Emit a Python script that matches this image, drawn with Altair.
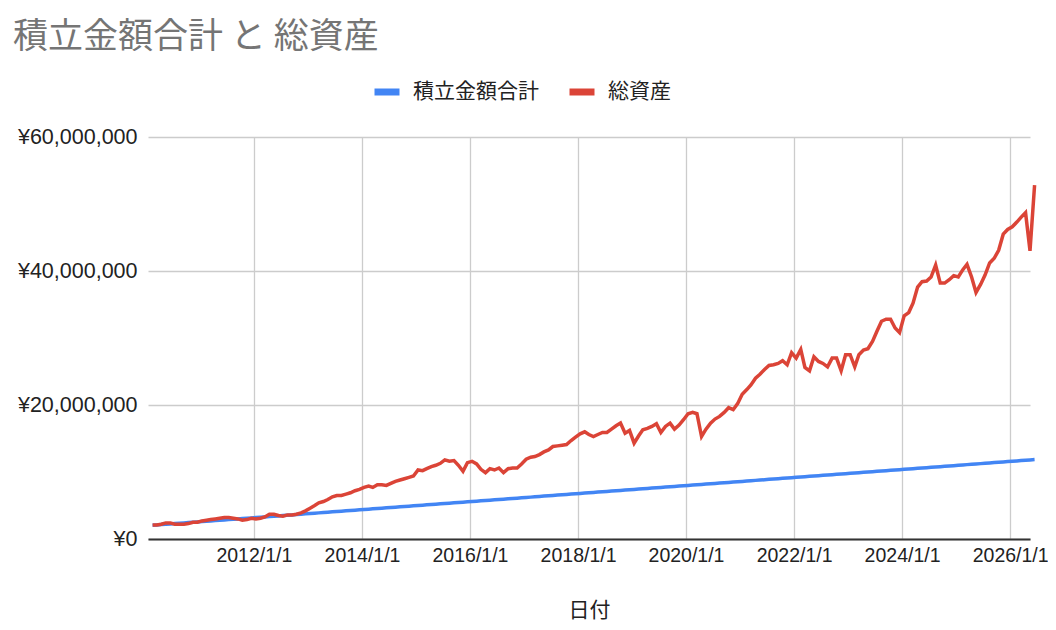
import altair as alt
import pandas as pd

series_names = ["積立金額合計", "総資産"]
series_colors = ["#4285F4", "#DB4437"]

# monthly dates (15th of each month), 2010/1 .. 2026/5
dates = pd.date_range("2010-01-15", periods=197, freq="MS") + pd.Timedelta(days=14)

# 積立金額合計 (万円), one row per year
contrib_2010 = [205, 210, 215, 220, 225, 230, 235, 240, 245, 250, 255, 260]
contrib_2011 = [265, 270, 275, 280, 285, 290, 295, 300, 305, 310, 315, 320]
contrib_2012 = [325, 330, 335, 340, 345, 350, 355, 360, 365, 370, 375, 380]
contrib_2013 = [385, 390, 395, 400, 405, 410, 415, 420, 425, 430, 435, 440]
contrib_2014 = [445, 450, 455, 460, 465, 470, 475, 480, 485, 490, 495, 500]
contrib_2015 = [505, 510, 515, 520, 525, 530, 535, 540, 545, 550, 555, 560]
contrib_2016 = [565, 570, 575, 580, 585, 590, 595, 600, 605, 610, 615, 620]
contrib_2017 = [625, 630, 635, 640, 645, 650, 655, 660, 665, 670, 675, 680]
contrib_2018 = [685, 690, 695, 700, 705, 710, 715, 720, 725, 730, 735, 740]
contrib_2019 = [745, 750, 755, 760, 765, 770, 775, 780, 785, 790, 795, 800]
contrib_2020 = [805, 810, 815, 820, 825, 830, 835, 840, 845, 850, 855, 860]
contrib_2021 = [865, 870, 875, 880, 885, 890, 895, 900, 905, 910, 915, 920]
contrib_2022 = [925, 930, 935, 940, 945, 950, 955, 960, 965, 970, 975, 980]
contrib_2023 = [985, 990, 995, 1000, 1005, 1010, 1015, 1020, 1025, 1030, 1035, 1040]
contrib_2024 = [1045, 1050, 1055, 1060, 1065, 1070, 1075, 1080, 1085, 1090, 1095, 1100]
contrib_2025 = [1105, 1110, 1115, 1120, 1125, 1130, 1135, 1140, 1145, 1150, 1155, 1160]
contrib_2026 = [1165, 1170, 1175, 1180, 1185]

# 総資産 (百万円), one row per year
total_2010 = [2.1, 2.1, 2.2, 2.4, 2.4, 2.2, 2.2, 2.2, 2.3, 2.5, 2.5, 2.7]
total_2011 = [2.8, 2.9, 3.0, 3.1, 3.2, 3.2, 3.1, 3.0, 2.8, 2.9, 3.1, 3.0]
total_2012 = [3.1, 3.3, 3.7, 3.7, 3.5, 3.4, 3.6, 3.6, 3.7, 3.9, 4.2, 4.6]
total_2013 = [5.0, 5.4, 5.6, 5.9, 6.3, 6.5, 6.5, 6.7, 6.9, 7.2, 7.4, 7.7]
total_2014 = [7.9, 7.7, 8.1, 8.1, 8.0, 8.3, 8.6, 8.8, 9.0, 9.2, 9.4, 10.3]
total_2015 = [10.2, 10.5, 10.8, 11.0, 11.3, 11.8, 11.6, 11.7, 11.0, 10.1, 11.4, 11.6]
total_2016 = [11.2, 10.4, 9.9, 10.5, 10.3, 10.6, 9.9, 10.5, 10.6, 10.6, 11.2, 11.9]
total_2017 = [12.2, 12.3, 12.6, 13.0, 13.3, 13.8, 13.9, 14.0, 14.1, 14.7, 15.2, 15.7]
total_2018 = [16.0, 15.6, 15.3, 15.6, 15.9, 15.9, 16.4, 16.9, 17.3, 15.8, 16.2, 14.3]
total_2019 = [15.4, 16.3, 16.5, 16.8, 17.2, 15.9, 16.8, 17.3, 16.4, 17.0, 17.8, 18.7]
total_2020 = [18.9, 18.7, 15.3, 16.4, 17.3, 17.9, 18.3, 18.9, 19.6, 19.3, 20.2, 21.6]
total_2021 = [22.3, 23.0, 24.0, 24.6, 25.3, 25.9, 26.0, 26.2, 26.6, 26.0, 27.8, 27.0]
total_2022 = [28.3, 25.6, 25.1, 27.2, 26.5, 26.2, 25.7, 27.0, 27.0, 25.1, 27.5, 27.5]
total_2023 = [25.7, 27.5, 28.2, 28.4, 29.5, 31.0, 32.5, 32.8, 32.8, 31.5, 30.8, 33.3]
total_2024 = [33.8, 35.2, 37.6, 38.4, 38.5, 39.1, 40.9, 38.2, 38.2, 38.7, 39.3, 39.1]
total_2025 = [40.2, 41.0, 39.1, 36.8, 38.0, 39.4, 41.2, 41.9, 43.1, 45.5, 46.2, 46.6]
total_2026 = [47.3, 48.0, 48.7, 43.0, 52.8]

contrib = (contrib_2010 + contrib_2011 + contrib_2012 + contrib_2013 + contrib_2014
           + contrib_2015 + contrib_2016 + contrib_2017 + contrib_2018 + contrib_2019
           + contrib_2020 + contrib_2021 + contrib_2022 + contrib_2023 + contrib_2024
           + contrib_2025 + contrib_2026)
total = (total_2010 + total_2011 + total_2012 + total_2013 + total_2014 + total_2015
         + total_2016 + total_2017 + total_2018 + total_2019 + total_2020 + total_2021
         + total_2022 + total_2023 + total_2024 + total_2025 + total_2026)

date_str = [d.strftime("%Y-%m-%d") for d in dates]
rows = []
for d, c in zip(date_str, contrib):
    rows.append({"日付": d, "系列": series_names[0], "金額": c * 10000})
for d, t in zip(date_str, total):
    rows.append({"日付": d, "系列": series_names[1], "金額": t * 1000000})
df = pd.DataFrame(rows)

tick_years = [2012, 2014, 2016, 2018, 2020, 2022, 2024, 2026]
y_ticks = [0, 20000000, 40000000, 60000000]

latin = "Liberation Sans"
cjk = "Noto Sans CJK JP"

x_enc = alt.X(
    "日付:T",
    scale=alt.Scale(
        type="utc",
        domain=[alt.DateTime(year=2010, month=1, date=15, utc=True),
                alt.DateTime(year=2026, month=5, date=15, utc=True)],
    ),
    axis=alt.Axis(
        values=[alt.DateTime(year=y, month=1, date=1, utc=True) for y in tick_years],
        format="%Y/%-m/%-d",
        labelFont=latin, labelFontSize=19.5, labelColor="#222222",
        labelPadding=7, labelFlush=False, labelOverlap=False,
        ticks=False, domainColor="#333333", domainWidth=2,
        gridColor="#cccccc", gridWidth=1.3,
        title="日付", titleFont=cjk, titleFontSize=21, titleFontWeight="normal",
        titleColor="#222222", titlePadding=35,
    ),
)
y_enc = alt.Y(
    "金額:Q",
    scale=alt.Scale(domain=[0, 60000000], nice=False),
    axis=alt.Axis(
        values=y_ticks,
        labelExpr='"¥" + format(datum.value, ",")',
        labelFont=latin, labelFontSize=21.5, labelColor="#222222",
        labelPadding=11, ticks=False, domain=False,
        gridColor="#cccccc", gridWidth=1.3, title=None,
    ),
)
color_enc = alt.Color(
    "系列:N",
    scale=alt.Scale(domain=series_names, range=series_colors),
    legend=alt.Legend(
        title=None, orient="none", direction="horizontal",
        legendX=223, legendY=-61,
        symbolType="stroke", symbolSize=625, symbolStrokeWidth=7,
        labelFont=cjk, labelFontSize=21, labelColor="#222222",
        labelOffset=10, columnPadding=16, padding=0,
    ),
)

base = alt.Chart(df).mark_line(strokeWidth=3.5).encode(x=x_enc, y=y_enc, color=color_enc)
blue = base.transform_filter(alt.datum["系列"] == series_names[0])
red = base.transform_filter(alt.datum["系列"] == series_names[1])

chart = (
    alt.layer(blue, red)
    .properties(
        width=882, height=402,
        autosize=alt.AutoSizeParams(type="none"),
        padding={"left": 140, "top": 129, "right": 18, "bottom": 83},
        background="white",
        title=alt.TitleParams(
            text="積立金額合計 と 総資産", anchor="start", frame="group",
            dx=-135, offset=4, baseline="middle",
            font=cjk, fontSize=35, fontWeight="normal", color="#757575",
        ),
    )
    .configure_view(strokeWidth=0)
)

chart.save("out.html", embed_options={"renderer": "svg", "actions": False})
